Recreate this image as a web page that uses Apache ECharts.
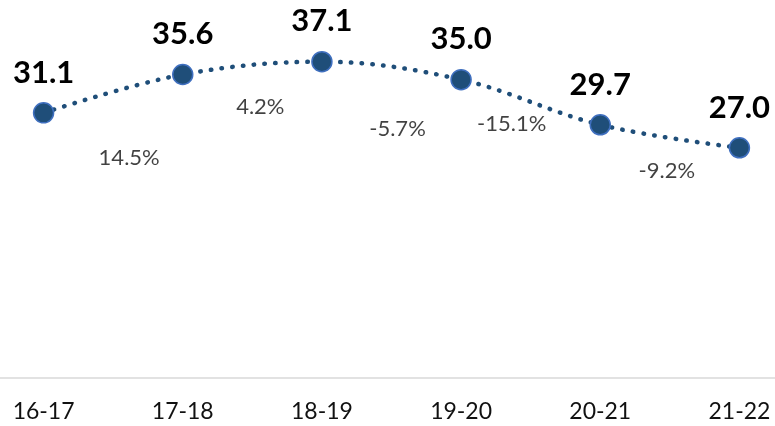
<!DOCTYPE html>
<html>
<head>
<meta charset="utf-8">
<script src="https://cdn.jsdelivr.net/npm/echarts@6/dist/echarts.min.js"></script>
<style>html,body{margin:0;padding:0;background:#fff;overflow:hidden;width:775px;height:426px}#c{width:835px;height:426px;margin-left:-26px}</style>
</head>
<body>
<div id="c"></div>
<script>
var categories = ['16-17', '17-18', '18-19', '19-20', '20-21', '21-22'];
var values = [31.1, 35.6, 37.1, 35.0, 29.7, 27.0];
var changeLabels = ['14.5%', '4.2%', '-5.7%', '-15.1%', '-9.2%'];
// pixel offsets of the change labels from the segment midpoints (style only)
var changeOffsets = [[16, 64], [8, 39], [6, 58], [-19, 22], [-3, 35]];

var changeData = changeLabels.map(function (t, i) {
  return {
    value: [i + 0.5, (values[i] + values[i + 1]) / 2],
    label: { offset: changeOffsets[i] }
  };
});

var chart = echarts.init(document.getElementById('c'), null, { renderer: 'canvas' });
chart.setOption({
  animation: false,
  backgroundColor: '#ffffff',
  grid: { left: 0, right: 0, top: 37, bottom: 48, containLabel: false },
  xAxis: [{
    type: 'category',
    data: categories,
    boundaryGap: true,
    axisLine: { show: true, lineStyle: { color: '#D9D9D9', width: 1.5 } },
    axisTick: { show: false },
    axisLabel: { color: '#111', fontFamily: 'Lato', fontWeight: 'normal', fontSize: 23, margin: 22 }
  }, {
    type: 'value',
    min: -0.5, max: 5.5,
    show: false
  }],
  yAxis: {
    type: 'value', min: 0, max: 40, show: false,
    splitLine: { show: false }
  },
  series: [{
    type: 'line',
    data: values,
    smooth: 0.35,
    symbol: 'circle',
    symbolSize: 20,
    lineStyle: { color: '#1F4E79', width: 4.5, type: [0.5, 10.3], cap: 'round' },
    itemStyle: { color: '#1F4E79', borderColor: '#3F6FBF', borderWidth: 1.5 },
    label: {
      show: true, position: 'top', distance: 14,
      color: '#000', fontFamily: 'Lato', fontWeight: 'bold', fontSize: 31,
      formatter: function (p) { return p.value.toFixed(1); }
    },
    z: 3
  }, {
    type: 'scatter',
    xAxisIndex: 1,
    data: changeData,
    symbolSize: 0,
    label: {
      show: true, position: 'inside',
      color: '#111', fontFamily: 'Lato', fontWeight: 'normal', fontSize: 22,
      formatter: function (p) { return changeLabels[p.dataIndex]; }
    },
    z: 2
  }]
});
</script>
</body>
</html>
